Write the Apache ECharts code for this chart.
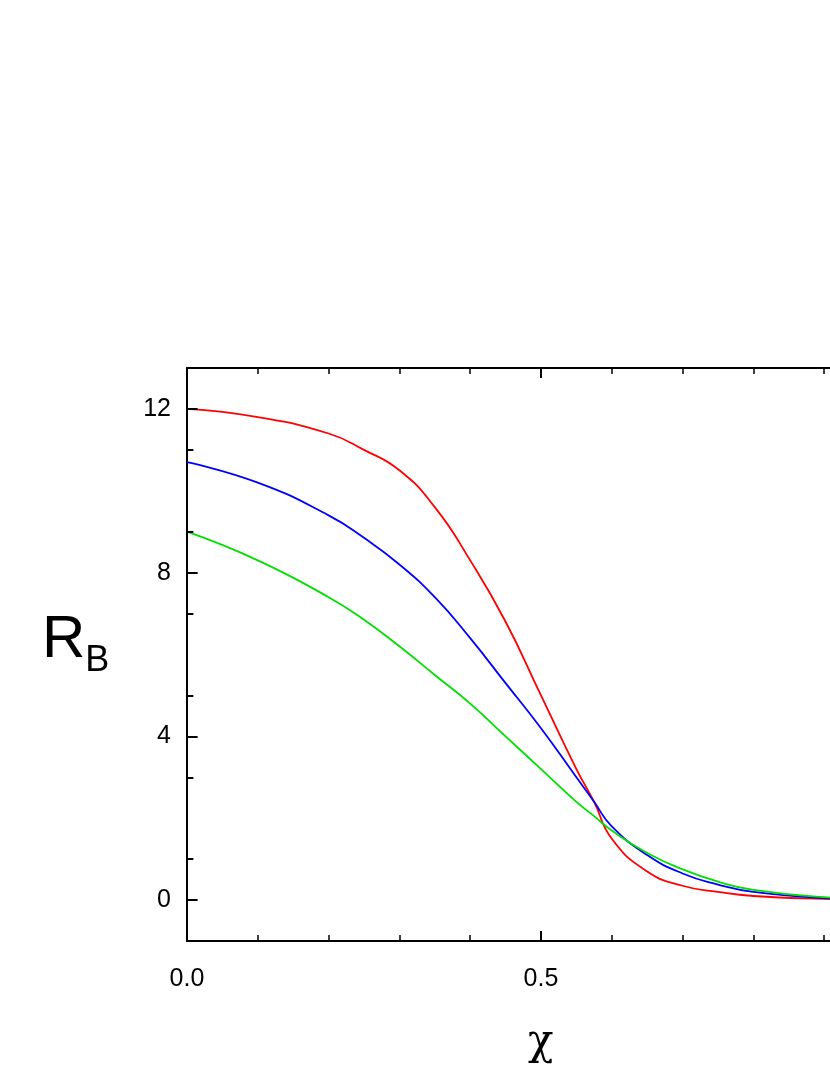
<!DOCTYPE html><html><head><meta charset="utf-8"><script src="https://cdn.jsdelivr.net/npm/echarts@6/dist/echarts.min.js"></script></head><body style="margin:0;background:#fff"><div id="c" style="width:830px;height:1075px"></div><script>
const xs=[0,0.1,0.2,0.25,0.3,0.35,0.4,0.45,0.5,0.55,0.575,0.6,0.65,0.7,0.75,0.8,0.9,1.0];
const red=[12,11.8,11.4,11.0,10.5,9.6,8.3,6.8,5.0,3.2,2.4,1.5,0.7,0.35,0.2,0.1,0.03,0];
const blue=[10.7,10.2,9.4,8.85,8.2,7.4,6.4,5.3,4.2,3.0,2.4,1.8,1.1,0.65,0.38,0.2,0.05,0];
const green=[9.0,8.3,7.4,6.85,6.2,5.5,4.8,4.0,3.2,2.4,2.05,1.7,1.15,0.75,0.45,0.25,0.07,0];
const mk=a=>xs.map((x,i)=>[x,a[i]]);
const ax={axisLine:{show:true,onZero:false,lineStyle:{color:'#000',width:2}},splitLine:{show:false}};
const c=echarts.init(document.getElementById('c'));
c.setOption({animation:false,
grid:{left:187,top:368,width:708,height:573,containLabel:false,outerBoundsMode:'none'},
xAxis:[{type:'value',min:0,max:1,interval:0.5,...ax,axisTick:{inside:true,length:10,lineStyle:{width:2}},minorTick:{show:true,splitNumber:5,length:6,lineStyle:{color:'#000',width:1.5}},axisLabel:{color:'#000',fontSize:25,fontFamily:'Arial',margin:26,formatter:v=>v.toFixed(1)}},
{type:'value',position:'top',min:0,max:1,interval:0.5,...ax,axisTick:{inside:true,length:10,lineStyle:{width:2}},minorTick:{show:true,splitNumber:5,length:6,lineStyle:{color:'#000',width:1.5}},axisLabel:{show:false}}],
yAxis:[{type:'value',min:-1,max:13,...ax,interval:1,axisTick:{show:false},axisLabel:{color:'#000',fontSize:25,fontFamily:'Arial',margin:16,formatter:v=>v%4===0?String(v):''}},
{type:'value',min:-1,max:13,position:'right',...ax,axisTick:{show:false},axisLabel:{show:false}}],
graphic:[{type:'text',left:42,top:610,style:{text:'{a|R}{b|B}',rich:{a:{fontSize:60,fontFamily:'Arial',fill:'#000'},b:{fontSize:36,fontFamily:'Arial',fill:'#000',padding:[42,0,0,0]}}}},
{type:'text',left:528,top:1022,style:{text:'χ',fontSize:42,fontFamily:'DejaVu Serif',fill:'#000'}}],
series:[
...[['#ff0000',red],['#0000ff',blue],['#00e000',green]].map(([col,d])=>({type:'line',data:mk(d),smooth:0.5,showSymbol:false,lineStyle:{color:col,width:1.8}})),
{type:'scatter',data:[],symbolSize:0,markLine:{silent:true,symbol:'none',label:{show:false},lineStyle:{color:'#000',width:2,type:'solid'},data:[-1,1,3,5,7,9,11].map(v=>[{coord:[0,v]},{coord:[0.009,v]}])}},
{type:'scatter',symbolSize:0,data:[],markLine:{silent:true,symbol:'none',label:{show:false},lineStyle:{color:'#000',width:2,type:'solid'},data:[0,4,8,12].map(v=>[{coord:[0,v]},{coord:[0.015,v]}])}}
]});
</script></body></html>
